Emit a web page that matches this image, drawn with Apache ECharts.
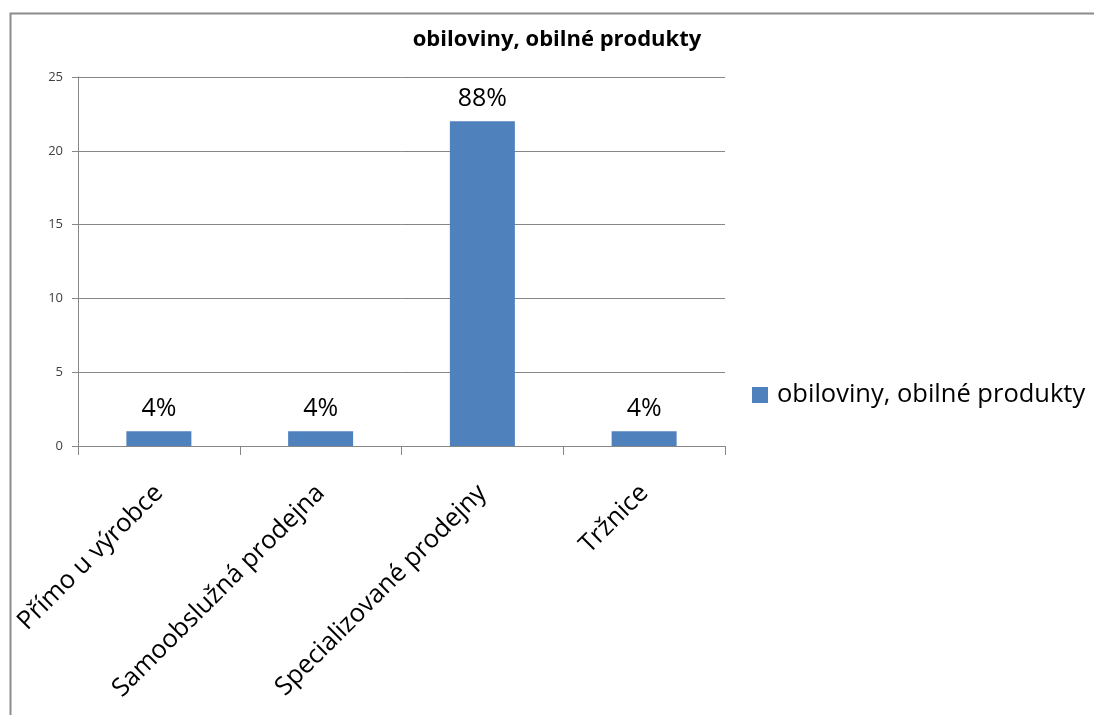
<!DOCTYPE html>
<html>
<head>
<meta charset="utf-8">
<script src="https://cdn.jsdelivr.net/npm/echarts@6/dist/echarts.min.js"></script>
<style>
html,body{margin:0;padding:0;background:#fff;}
#chart{width:1094px;height:715px;}
</style>
</head>
<body>
<div id="chart"></div>
<script>
// Purchase channels for cereals and cereal products
const seriesName = 'obiloviny, obilné produkty';
const categories = ['Přímo u výrobce', 'Samoobslužná prodejna', 'Specializované prodejny', 'Tržnice'];
const counts = [1, 1, 22, 1];
const yTicks = { min: 0, max: 25, interval: 5 };

const total = counts.reduce((a, b) => a + b, 0);
const FONT = '"Open Sans", "Noto Sans", sans-serif';

const chart = echarts.init(document.getElementById('chart'));
chart.setOption({
  animation: false,
  backgroundColor: '#fff',
  title: {
    text: seriesName,
    left: 557, top: 29, textAlign: 'center', padding: 0,
    textStyle: { fontFamily: FONT, fontSize: 22, fontWeight: 'bold', color: '#000' }
  },
  legend: {
    orient: 'vertical',
    left: 752, top: 382, padding: 0,
    itemWidth: 16, itemHeight: 16, itemGap: 0,
    icon: 'rect',
    textStyle: { fontFamily: FONT, fontSize: 25.5, color: '#000', padding: [0, 0, 0, 4] },
    data: [seriesName]
  },
  grid: { left: 78, right: 369, top: 77, bottom: 269, containLabel: false },
  xAxis: {
    type: 'category',
    data: categories,
    boundaryGap: true,
    axisLine: { lineStyle: { color: '#868686', width: 1 } },
    axisTick: { show: true, length: 9, alignWithLabel: false, lineStyle: { color: '#868686' } },
    axisLabel: {
      rotate: 45, interval: 0, margin: 43,
      fontFamily: FONT, fontSize: 25.5, color: '#000'
    }
  },
  yAxis: {
    type: 'value',
    min: yTicks.min, max: yTicks.max, interval: yTicks.interval,
    axisLine: { show: true, lineStyle: { color: '#868686', width: 1 } },
    axisTick: { show: true, length: 6, lineStyle: { color: '#868686' } },
    splitLine: { lineStyle: { color: '#868686', width: 1 } },
    axisLabel: { margin: 15, fontFamily: FONT, fontSize: 13, color: '#404040' }
  },
  series: [{
    name: seriesName,
    type: 'bar',
    data: counts,
    barWidth: 65,
    itemStyle: { color: '#4F81BD' },
    label: {
      show: true, position: 'top', distance: 10,
      fontFamily: FONT, fontSize: 25, color: '#000',
      formatter: p => Math.round(p.value / total * 100) + '%'
    }
  }],
  graphic: [{
    type: 'rect',
    shape: { x: 10.5, y: 13.5, width: 1200, height: 800 },
    style: { fill: 'none', stroke: '#8c8c8c', lineWidth: 2 },
    silent: true
  }]
});
</script>
</body>
</html>
